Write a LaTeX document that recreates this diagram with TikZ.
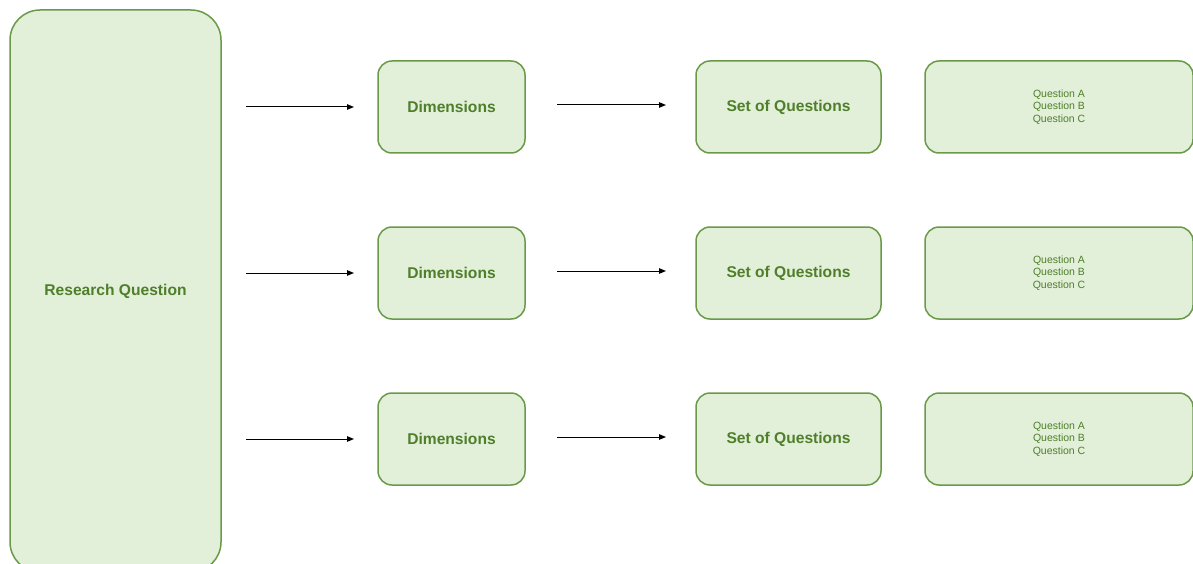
\documentclass[tikz,border=0pt]{standalone}
\usepackage{fontspec}
\setmainfont{Liberation Sans}
\usetikzlibrary{arrows.meta}
\definecolor{boxfill}{HTML}{E2EFD9}
\definecolor{boxline}{HTML}{6A9A48}
\definecolor{boxtext}{HTML}{4F7F2A}
\begin{document}
\begin{tikzpicture}[x=1pt,y=-1pt,
  box/.style={draw=boxline,fill=boxfill,line width=1.5pt,rounded corners=14pt,
    inner sep=0pt,align=center,text=boxtext},
  bigtext/.style={font=\fontsize{15.6}{18}\selectfont\bfseries},
  smalltext/.style={font=\fontsize{10.5}{12.5}\selectfont},
  flow/.style={draw=black,line width=1pt,-{Triangle[length=7pt,width=5.5pt]}}]
\useasboundingbox (0,0) rectangle (1193,564);

% left column
\node[box,bigtext,rounded corners=30pt,minimum width=211pt,minimum height=562pt]
  (rq) at (115.5,291) {Research Question};

% three rows
\foreach \r/\y/\ya/\yb in {1/107/107/105, 2/273/273/271, 3/439/439/437}{
  \node[box,bigtext,minimum width=147pt,minimum height=92pt] (dim\r) at (451.5,\y) {Dimensions};
  \node[box,bigtext,minimum width=185pt,minimum height=92pt] (set\r) at (788.5,\y) {Set of Questions};
  \node[box,smalltext,minimum width=268pt,minimum height=92pt] (q\r) at (1059,\y)
    {Question A\\Question B\\Question C};
  \coordinate (a\r s) at (246,\ya);
  \coordinate (a\r e) at (354,\ya);
  \coordinate (b\r s) at (557,\yb);
  \coordinate (b\r e) at (666,\yb);
  \draw[flow] (a\r s) -- (a\r e);
  \draw[flow] (b\r s) -- (b\r e);
}
\end{tikzpicture}
\end{document}
